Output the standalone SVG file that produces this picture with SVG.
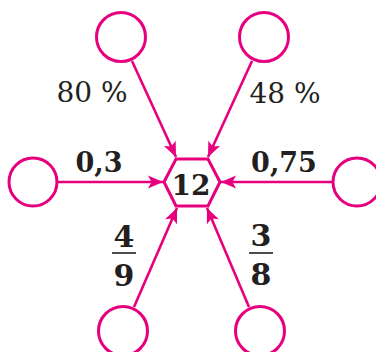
<svg xmlns="http://www.w3.org/2000/svg" width="376" height="352" viewBox="0 0 376 352">
<defs>
<style>
.n{fill:#fff;stroke:#E6007E;stroke-width:3}
.c{stroke:#E6007E;stroke-width:2.6;fill:none}
.t{font-family:"DejaVu Serif","Liberation Serif",serif;fill:#231F20;text-anchor:middle}
.r{font-size:28px}
.b{font-size:27px;font-weight:bold}
.f{font-size:30px;font-weight:bold}
.bar{stroke:#231F20;stroke-width:1.6}
</style>
<marker id="ah" markerUnits="userSpaceOnUse" markerWidth="20" markerHeight="20" refX="16" refY="8" orient="auto" viewBox="0 0 20 16">
<path d="M16,8 L1,1.5 L4.5,8 L1,14.5 Z" fill="#E6007E"/>
</marker>
</defs>
<rect width="376" height="352" fill="#fff"/>
<g id="connectors">
<line class="c" x1="132" y1="61" x2="176" y2="157" marker-end="url(#ah)"/>
<line class="c" x1="252" y1="61" x2="208" y2="157" marker-end="url(#ah)"/>
<line class="c" x1="57" y1="182" x2="163" y2="182" marker-end="url(#ah)"/>
<line class="c" x1="333" y1="182" x2="221" y2="182" marker-end="url(#ah)"/>
<line class="c" x1="134" y1="307" x2="177" y2="208" marker-end="url(#ah)"/>
<line class="c" x1="249" y1="307" x2="207" y2="208" marker-end="url(#ah)"/>
</g>
<g id="center">
<polygon class="n" points="164,182 176,159 208,159 220,182 208,206 176,206"/>
<text class="t b" x="191" y="195" style="font-size:28px">12</text>
</g>
<g id="top-left"><circle class="n" cx="121" cy="37" r="24.5"/></g>
<g id="top-right"><circle class="n" cx="264" cy="37" r="24.5"/></g>
<g id="left"><circle class="n" cx="33" cy="182" r="24"/></g>
<g id="right"><circle class="n" cx="357" cy="182" r="24"/></g>
<g id="bottom-left"><circle class="n" cx="123" cy="331" r="24.5"/></g>
<g id="bottom-right"><circle class="n" cx="260" cy="331" r="24.5"/></g>
<g id="labels">
<text class="t r" x="92" y="102">80 %</text>
<text class="t r" x="285" y="103">48 %</text>
<text class="t b" x="99" y="172">0,3</text>
<text class="t b" x="284" y="172">0,75</text>
<text class="t f" x="124" y="247">4</text>
<line class="bar" x1="112" y1="253" x2="136" y2="253"/>
<text class="t f" x="124" y="286">9</text>
<text class="t f" x="261" y="246">3</text>
<line class="bar" x1="249" y1="253" x2="273" y2="253"/>
<text class="t f" x="261" y="285">8</text>
</g>
</svg>
